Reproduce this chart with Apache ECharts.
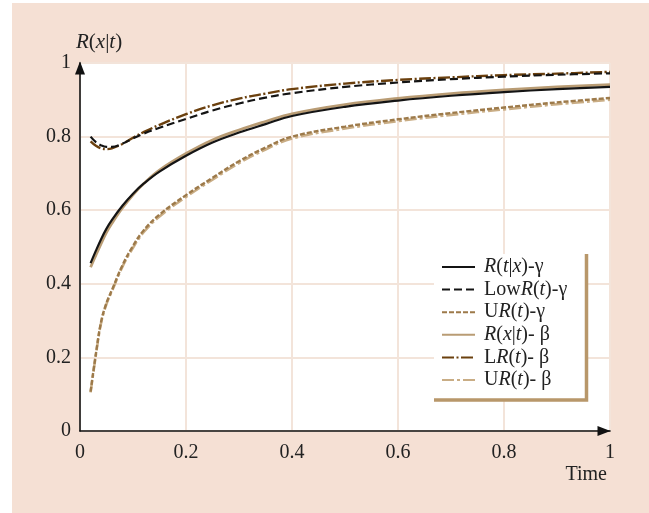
<!DOCTYPE html>
<html>
<head>
<meta charset="utf-8">
<script src="https://cdn.jsdelivr.net/npm/echarts@6/dist/echarts.min.js"></script>
<style>
  html, body { margin: 0; padding: 0; background: #ffffff; }
  #chart { position: absolute; left: 12px; top: 3px; width: 637px; height: 510px; }
</style>
</head>
<body>
<div id="chart"></div>
<script>
// Time points (shared by all curves)
const times = [0.02, 0.03, 0.04, 0.05, 0.06, 0.08, 0.1, 0.12, 0.15, 0.2, 0.25, 0.3, 0.35, 0.4, 0.5, 0.6, 0.7, 0.8, 0.9, 1.0];

// Gamma model: point estimate and bounds
const rGamma    = [0.456, 0.490, 0.522, 0.550, 0.573, 0.612, 0.645, 0.672, 0.705, 0.748, 0.784, 0.811, 0.834, 0.856, 0.881, 0.898, 0.911, 0.921, 0.929, 0.935];
const lowGamma  = [0.800, 0.785, 0.776, 0.772, 0.772, 0.781, 0.795, 0.808, 0.824, 0.848, 0.871, 0.890, 0.906, 0.918, 0.935, 0.947, 0.956, 0.963, 0.968, 0.972];
const upGamma   = [0.107, 0.210, 0.298, 0.348, 0.382, 0.450, 0.503, 0.545, 0.588, 0.641, 0.688, 0.733, 0.770, 0.800, 0.827, 0.847, 0.864, 0.879, 0.893, 0.905];

// Beta model: point estimate and bounds
const rBeta     = [0.445, 0.478, 0.510, 0.540, 0.564, 0.606, 0.642, 0.672, 0.709, 0.754, 0.791, 0.818, 0.841, 0.862, 0.887, 0.904, 0.917, 0.927, 0.935, 0.941];
const lowBeta   = [0.787, 0.775, 0.768, 0.766, 0.768, 0.780, 0.797, 0.812, 0.832, 0.861, 0.885, 0.903, 0.917, 0.929, 0.944, 0.954, 0.961, 0.967, 0.971, 0.976];
const upBeta    = [0.105, 0.207, 0.295, 0.345, 0.379, 0.446, 0.498, 0.540, 0.583, 0.636, 0.683, 0.728, 0.765, 0.795, 0.822, 0.842, 0.859, 0.874, 0.888, 0.900];

// Axis ticks
const xTicks = [0, 0.2, 0.4, 0.6, 0.8, 1];
const yTicks = [0, 0.2, 0.4, 0.6, 0.8, 1];

const serif = '"Liberation Serif", "DejaVu Serif", serif';
function richStyles(size) {
  return {
    i: { fontFamily: serif, fontStyle: 'italic', fontSize: size, color: '#222', lineHeight: 20 },
    n: { fontFamily: serif, fontSize: size, color: '#222', lineHeight: 20 }
  };
}

// Legend labels typeset with italic variables
const legendRich = {
  'R(t|x)-γ':  '{i|R}{n|(}{i|t}{n||}{i|x}{n|)-γ}',
  'LowR(t)-γ': '{n|Low}{i|R}{n|(}{i|t}{n|)-γ}',
  'UR(t)-γ':   '{n|U}{i|R}{n|(}{i|t}{n|)-γ}',
  'R(x|t)-β':  '{i|R}{n|(}{i|x}{n||}{i|t}{n|)- β}',
  'LR(t)-β':   '{n|L}{i|R}{n|(}{i|t}{n|)- β}',
  'UR(t)-β':   '{n|U}{i|R}{n|(}{i|t}{n|)- β}'
};

function pairs(vals) {
  return times.map((t, k) => [t, vals[k]]);
}

function line(name, vals, color, width, type) {
  return {
    name: name,
    type: 'line',
    data: pairs(vals),
    smooth: 0.4,
    symbol: 'none',
    z: 2,
    lineStyle: { color: color, width: width, type: type, cap: 'butt' },
    itemStyle: { color: color },
    emphasis: { disabled: true }
  };
}

const chart = echarts.init(document.getElementById('chart'), null, { renderer: 'canvas' });

chart.setOption({
  animation: false,
  backgroundColor: '#f5e0d4',
  title: {
    text: 'Time',
    right: 42, top: 462, padding: 0,
    textStyle: { fontFamily: serif, fontSize: 20, fontWeight: 'normal', color: '#222', lineHeight: 20 }
  },
  grid: {
    left: 68, right: 39, top: 60, bottom: 82,
    show: true, backgroundColor: '#ffffff', borderWidth: 0,
    containLabel: false, outerBoundsMode: 'none'
  },
  xAxis: {
    type: 'value', min: 0, max: 1, interval: 0.2,
    axisLine: {
      show: true, onZero: false,
      lineStyle: { color: '#111', width: 1.6 },
      symbol: ['none', 'triangle'], symbolSize: [10, 13], symbolOffset: [0, -6]
    },
    axisTick: { show: false },
    axisLabel: {
      fontFamily: serif, fontSize: 20, color: '#222', margin: 12,
      showMinLabel: true, showMaxLabel: true,
      formatter: v => xTicks.includes(+v.toFixed(1)) ? String(+v.toFixed(1)) : ''
    },
    splitLine: { show: true, lineStyle: { color: '#f3e4da', width: 2 } }
  },
  yAxis: {
    type: 'value', min: 0, max: 1, interval: 0.2,
    name: '{i|R}{n|(}{i|x}{n||}{i|t}{n|)}',
    nameLocation: 'end',
    nameGap: 9,
    nameTextStyle: { align: 'left', rich: richStyles(21), padding: [0, 0, 0, -4] },
    axisLine: {
      show: true, onZero: false,
      lineStyle: { color: '#111', width: 1.6 },
      symbol: ['none', 'triangle'], symbolSize: [10, 13], symbolOffset: [0, -5]
    },
    axisTick: { show: false },
    axisLabel: {
      fontFamily: serif, fontSize: 20, color: '#222', margin: 9,
      showMinLabel: true, showMaxLabel: true,
      formatter: v => yTicks.includes(+v.toFixed(1)) ? String(+v.toFixed(1)) : ''
    },
    splitLine: { show: true, lineStyle: { color: '#f3e4da', width: 2 } }
  },
  // Legend panel: white box with a tan frame on the right and bottom
  graphic: [
    { type: 'rect', z: 3, silent: true,
      shape: { x: 422, y: 251, width: 152, height: 146 },
      style: { fill: '#ffffff' } },
    { type: 'polyline', z: 3, silent: true,
      shape: { points: [[422, 397], [574.5, 397], [574.5, 251]] },
      style: { stroke: '#b8976a', lineWidth: 3.5, fill: null } }
  ],
  legend: {
    orient: 'vertical',
    left: 422, top: 251,
    padding: [3, 0, 0, 7],
    itemWidth: 33, itemHeight: 14, itemGap: 2.6,
    z: 5,
    itemStyle: { opacity: 0 },
    textStyle: { rich: richStyles(20), padding: [0, 0, 0, 4], lineHeight: 20 },
    formatter: name => legendRich[name],
    data: ['R(t|x)-γ', 'LowR(t)-γ', 'UR(t)-γ', 'R(x|t)-β', 'LR(t)-β', 'UR(t)-β']
  },
  series: [
    line('UR(t)-β',   upBeta,   '#c9ad85', 2.6, [12, 3, 3, 3]),
    line('UR(t)-γ',   upGamma,  '#9d7a4a', 2.4, [5, 2]),
    line('R(x|t)-β',  rBeta,    '#b99c74', 2.8, 'solid'),
    line('R(t|x)-γ',  rGamma,   '#141414', 2.2, 'solid'),
    line('LR(t)-β',   lowBeta,  '#6b400e', 2.4, [12, 2.5, 2, 2.5]),
    line('LowR(t)-γ', lowGamma, '#141414', 2.2, [8, 4])
  ]
});
</script>
</body>
</html>
